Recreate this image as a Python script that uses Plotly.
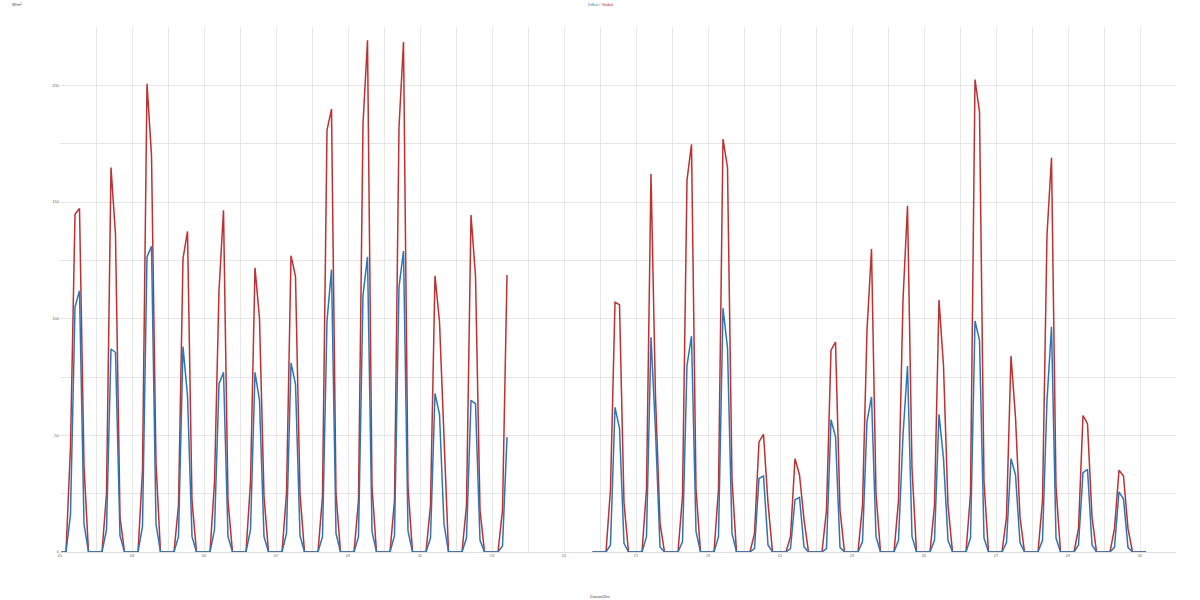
import pandas as pd
import plotly.graph_objects as go

# 3-hourly samples per day at 01,04,07,10,13,16,19,22 h
N = None
blue_days = [
    [0, 0, 16, 105, 112, 12, 0, 0],
    [0, 0, 9.5, 87, 85.5, 7, 0, 0],
    [0, 0, 11, 126.5, 131, 12, 0, 0],
    [0, 0, 6.6, 88, 67, 6.6, 0, 0],
    [0, 0, 9.5, 72, 77, 6.6, 0, 0],
    [0, 0, 9.5, 77, 65, 6.6, 0, 0],
    [0, 0, 8, 81, 72, 7, 0, 0],
    [0, 0, 6.6, 99, 121, 8, 0, 0],
    [0, 0, 6.6, 110, 126.5, 8.8, 0, 0],
    [0, 0, 7, 113.5, 129, 9, 0, 0],
    [0, 0, 6, 68, 59, 12, 0, 0],
    [0, 0, 6, 65, 63.6, 5, 0, 0],
    [0, 0, 2.6, 49.3, N, N, N, N],
    [N, N, N, N, N, N, N, N],
    [N, N, N, N, N, N, 0, 0],
    [0, 0, 3, 62, 53, 3.7, 0, 0],
    [0, 0, 6.6, 92, 52, 2.2, 0, 0],
    [0, 0, 4.4, 80, 92.5, 8.8, 0, 0],
    [0, 0, 6.6, 104.5, 87.5, 8, 0, 0],
    [0, 0, 1.5, 31.5, 32.6, 3, 0, 0],
    [0, 0, 1.5, 22.4, 23.4, 2.2, 0, 0],
    [0, 0, 1.5, 56.7, 49.5, 2, 0, 0],
    [0, 0, 4.4, 56, 66.5, 6.6, 0, 0],
    [0, 0, 5, 50, 79.7, 6.6, 0, 0],
    [0, 0, 5, 59, 40, 5, 0, 0],
    [0, 0, 6, 99, 90.7, 6, 0, 0],
    [0, 0, 4, 40, 33, 4, 0, 0],
    [0, 0, 5, 65, 96.5, 6, 0, 0],
    [0, 0, 3, 34, 35.4, 3, 0, 0],
    [0, 0, 2, 25.8, 22.7, 2, 0, 0],
    [0, 0],
]
red_days = [
    [0, 0, 45, 144.7, 147.2, 37, 0, 0],
    [0, 0, 25, 164.8, 136, 15, 0, 0],
    [0, 0, 35, 200.7, 170, 38, 0, 0],
    [0, 0, 20, 125.7, 137.4, 22, 0, 0],
    [0, 0, 30, 112, 146.5, 22, 0, 0],
    [0, 0, 30, 121.8, 100, 24, 0, 0],
    [0, 0, 25, 127, 118, 25, 0, 0],
    [0, 0, 24, 180.8, 189.8, 25, 0, 0],
    [0, 0, 22, 183.5, 219.3, 28, 0, 0],
    [0, 0, 22, 182, 218.6, 28, 0, 0],
    [0, 0, 20, 118.4, 98.7, 45, 0, 0],
    [0, 0, 20, 144.4, 118.4, 18, 0, 0],
    [0, 0, 18, 118.7, N, N, N, N],
    [N, N, N, N, N, N, N, N],
    [N, N, N, N, N, N, 0, 0],
    [0, 0, 27, 107, 106, 21, 0, 0],
    [0, 0, 27, 162, 66.5, 12.4, 0, 0],
    [0, 0, 24, 159.4, 174.7, 27, 0, 0],
    [0, 0, 27, 177, 164.8, 31, 0, 0],
    [0, 0, 8, 47.2, 50.4, 21, 0, 0],
    [0, 0, 6.6, 40, 33, 14, 0, 0],
    [0, 0, 18, 86.5, 90, 18, 0, 0],
    [0, 0, 20, 95, 129.8, 25, 0, 0],
    [0, 0, 22, 108, 148.4, 36, 0, 0],
    [0, 0, 20, 108, 79.7, 20, 0, 0],
    [0, 0, 25, 202.5, 188.6, 30, 0, 0],
    [0, 0, 15, 84, 57.7, 15, 0, 0],
    [0, 0, 22, 136, 169, 28, 0, 0],
    [0, 0, 10, 58.5, 55, 15, 0, 0],
    [0, 0, 10, 35, 32.6, 10, 0, 0],
    [0, 0],
]

blue_name = "Diffus"
red_name = "Global"
y_title = "W/m²"
x_title = "Datum/Zeit"

blue = [v for d in blue_days for v in d]
red = [v for d in red_days for v in d]
times = pd.date_range("2023-07-01 01:00", periods=len(blue), freq="3h")

BLUE = "#2e75b6"
RED = "#bf3030"

fig = go.Figure()
fig.add_trace(go.Scatter(x=times, y=red, mode="lines", name=red_name,
                         line=dict(color=RED, width=1.5)))
fig.add_trace(go.Scatter(x=times, y=blue, mode="lines", name=blue_name,
                         line=dict(color=BLUE, width=1.5)))

grid = "#e6e6e6"
tickfont = dict(family="Liberation Sans", size=4, color="#666666")
PW, PH = 1116, 525
cx = (600 - 60) / PW
fig.update_layout(
    width=1200, height=600,
    margin=dict(l=60, r=24, t=27, b=48),
    paper_bgcolor="white", plot_bgcolor="white",
    showlegend=False,
    xaxis=dict(
        range=["2023-07-01", "2023-08-01"],
        tick0="2023-07-01", dtick=2 * 86400000, tickformat="%d",
        showgrid=True, gridcolor=grid, gridwidth=1,
        minor=dict(dtick=86400000, showgrid=True, gridcolor=grid, gridwidth=1),
        tickfont=tickfont, showline=False, zeroline=False, ticks="",
    ),
    yaxis=dict(
        range=[0, 225], dtick=50, tick0=0,
        showgrid=True, gridcolor=grid, gridwidth=1,
        minor=dict(dtick=25, showgrid=True, gridcolor=grid, gridwidth=1),
        tickfont=tickfont, zeroline=True, zerolinecolor="#dddddd", zerolinewidth=1,
        showline=False, ticks="",
    ),
    annotations=[
        dict(xref="paper", yref="paper", x=cx, y=1 + 23 / PH, yanchor="middle",
             xanchor="center", showarrow=False,
             text=f"<span style='color:{BLUE}'>{blue_name}</span>"
                  f"<span style='color:#888'> / </span>"
                  f"<span style='color:{RED}'>{red_name}</span>",
             font=dict(family="Liberation Sans", size=4)),
        dict(xref="paper", yref="paper", x=-50 / PW, y=1 + 23 / PH, yanchor="middle",
             xanchor="left", showarrow=False, text=y_title,
             font=dict(family="Liberation Sans", size=4, color="#444444")),
        dict(xref="paper", yref="paper", x=cx, y=-44 / PH, yanchor="middle",
             xanchor="center", showarrow=False, text=x_title,
             font=dict(family="Liberation Sans", size=4, color="#444444")),
    ],
)

fig.write_html("out.html",
               config={"displayModeBar": False},
               post_script="document.body.style.margin='0';document.body.style.padding='0';")
